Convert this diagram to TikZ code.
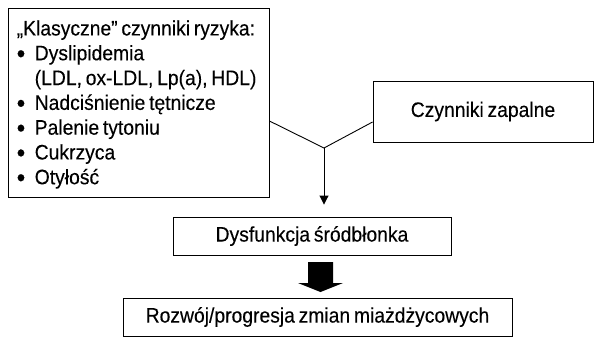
\documentclass[tikz,border=0pt]{standalone}
\usepackage{fontspec}
\setmainfont{Liberation Sans}[FakeStretch=0.92,WordSpace=0.7,FakeBold=0.2]
\usetikzlibrary{arrows.meta,positioning,calc}
\newcommand{\riskitem}{\makebox[18pt][l]{\raisebox{-2.2pt}{\scalebox{1.25}{\textbullet}}}}

\begin{document}
\begin{tikzpicture}[
  x=1pt, y=-1pt,
  >={Triangle[length=9pt,width=9pt]},
  every node/.style={font=\fontsize{21}{24.8}\selectfont},
  box/.style={draw, line width=0.9pt, inner sep=0pt, align=center},
  riskbox/.style={box, minimum width=261pt, minimum height=189pt},
  list/.style={inner sep=0pt, align=left},
  link/.style={line width=0.9pt}
]
\useasboundingbox (0,0) rectangle (594,338);
% factor boxes
\node[riskbox] (risk) at (138.5,102.5) {};
\node[list, below right=12.5pt and 9pt of risk.north west] (risktext) {„Klasyczne” czynniki ryzyka:\\
  \riskitem Dyslipidemia\\
  \hspace*{18pt}(LDL, ox-LDL, Lp(a), HDL)\\
  \riskitem Nadciśnienie tętnicze\\
  \riskitem Palenie tytoniu\\
  \riskitem Cukrzyca\\
  \riskitem Otyłość};
\node[box, minimum width=220pt, minimum height=61pt] (infl) at (483,111.5) {Czynniki zapalne};
% outcome boxes
\node[box, minimum width=278pt, minimum height=38pt] (dysf) at (312,236) {Dysfunkcja śródbłonka};
\node[box, minimum width=389pt, minimum height=38pt] (prog) at (317.5,317) {Rozwój/progresja zmian miażdżycowych};
% connectors
\coordinate (join) at (324,148);
\draw[link] (risk.east |- 0,121) -- (join) -- (infl.west |- 0,122);
\draw[link,->,shorten >=12pt] (join) -- (join |- dysf.north);
% thick arrow
\fill (308,262) -- (333,262) -- (333,283) -- (343,283) -- (320.5,292)
  -- (298,283) -- (308,283) -- cycle;
\end{tikzpicture}
\end{document}
